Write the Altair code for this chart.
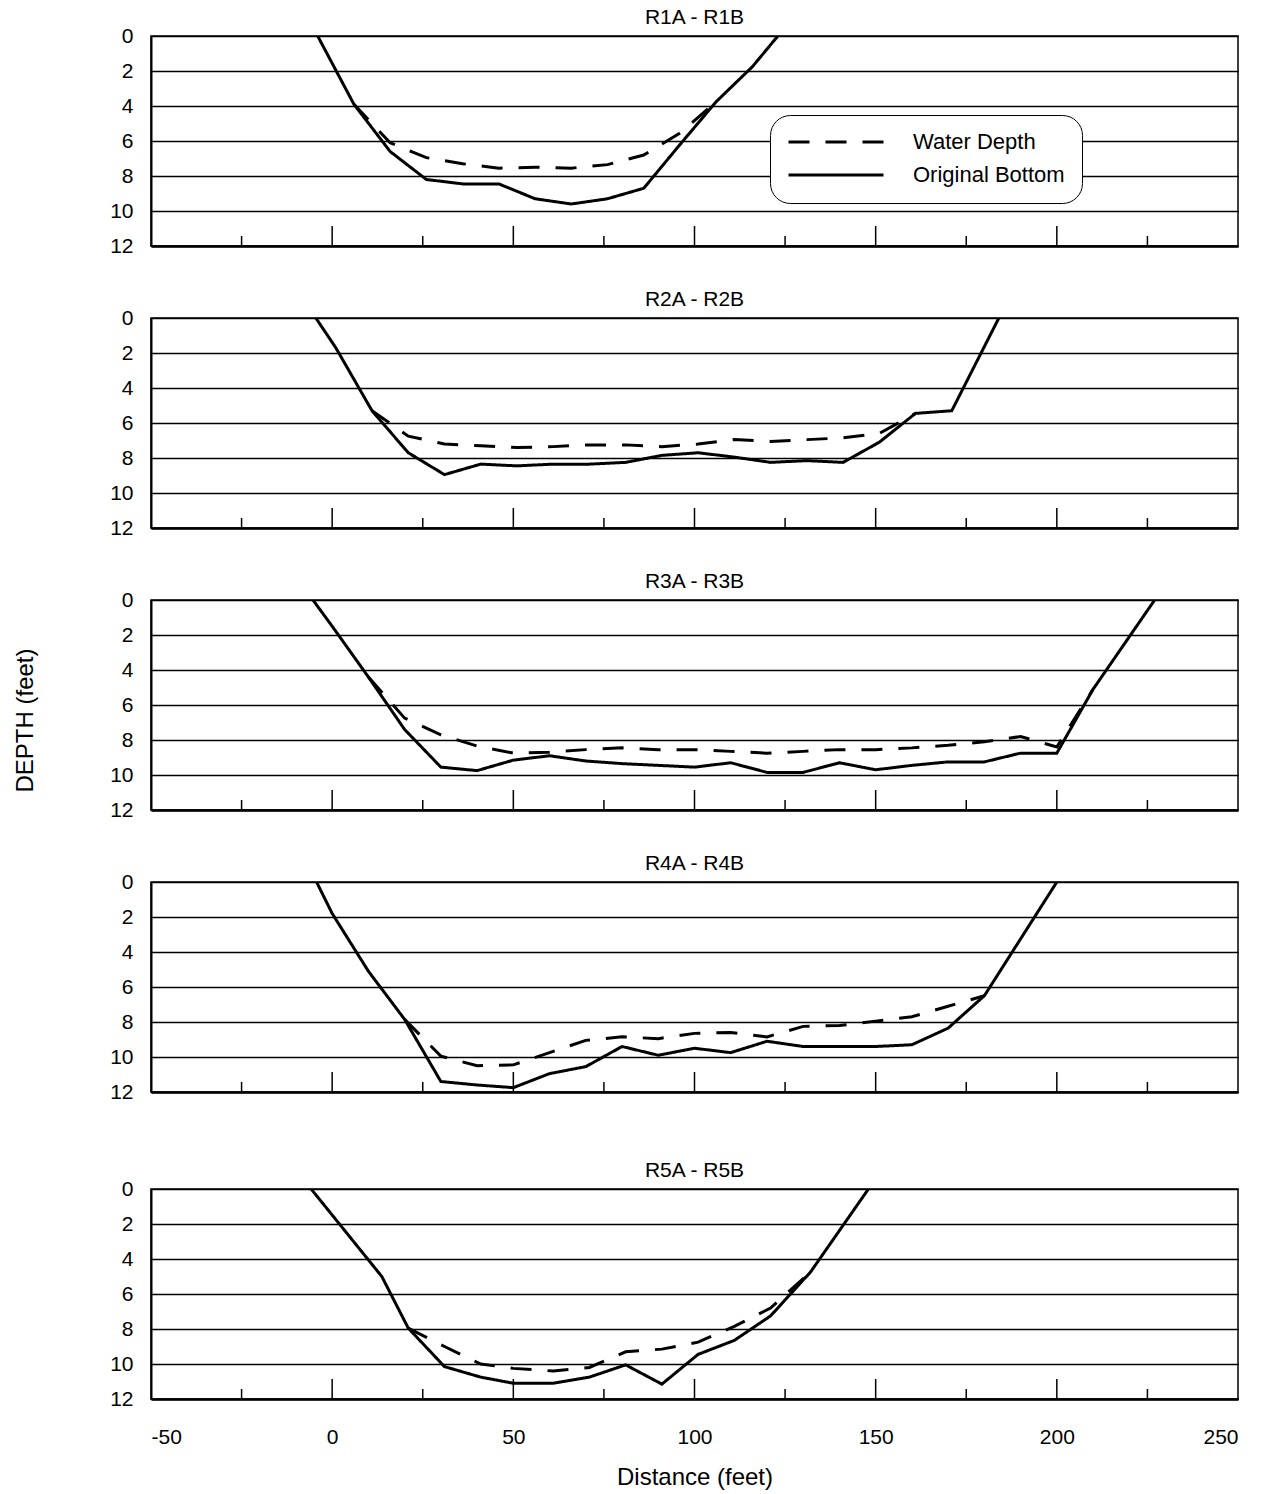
import altair as alt
import pandas as pd

FONT = "Liberation Sans"

transects = ["R1A - R1B", "R2A - R2B", "R3A - R3B", "R4A - R4B", "R5A - R5B"]
series_names = ["Original Bottom", "Water Depth"]

# R1A - R1B
r1_bottom_x = [-4, 6, 16, 26, 36, 46, 56, 66, 76, 86, 96, 106, 116, 123]
r1_bottom_d = [0, 3.9, 6.6, 8.2, 8.45, 8.45, 9.3, 9.6, 9.3, 8.7, 6.2, 3.75, 1.75, 0]
r1_water_x = [6, 16, 26, 36, 46, 56, 66, 76, 86, 96, 106]
r1_water_d = [3.9, 6.1, 6.95, 7.3, 7.55, 7.5, 7.55, 7.35, 6.8, 5.55, 3.75]

# R2A - R2B
r2_bottom_x = [-4.5, 1, 11, 21, 31, 41, 51, 61, 71, 81, 91, 101, 111, 121, 131, 141, 151, 161, 171, 184]
r2_bottom_d = [0, 1.7, 5.3, 7.7, 8.95, 8.35, 8.45, 8.35, 8.35, 8.25, 7.85, 7.7, 7.95, 8.25, 8.15, 8.25, 7.1, 5.45, 5.3, 0]
r2_water_x = [11, 21, 31, 41, 51, 61, 71, 81, 91, 101, 111, 121, 131, 141, 151, 161]
r2_water_d = [5.3, 6.75, 7.2, 7.3, 7.4, 7.35, 7.25, 7.25, 7.35, 7.2, 6.95, 7.05, 6.95, 6.85, 6.6, 5.45]

# R3A - R3B
r3_bottom_x = [-5.3, 0, 10, 20, 30, 40, 50, 60, 70, 80, 90, 100, 110, 120, 130, 140, 150, 160, 170, 180, 190, 200, 210, 227]
r3_bottom_d = [0, 1.5, 4.4, 7.4, 9.55, 9.75, 9.15, 8.9, 9.2, 9.35, 9.45, 9.55, 9.3, 9.85, 9.85, 9.3, 9.7, 9.45, 9.25, 9.25, 8.75, 8.75, 5.1, 0]
r3_water_x = [10, 20, 30, 40, 50, 60, 70, 80, 90, 100, 110, 120, 130, 140, 150, 160, 170, 180, 190, 200, 210]
r3_water_d = [4.4, 6.75, 7.7, 8.35, 8.75, 8.7, 8.55, 8.45, 8.55, 8.55, 8.65, 8.75, 8.65, 8.55, 8.55, 8.45, 8.3, 8.1, 7.8, 8.4, 5.1]

# R4A - R4B
r4_bottom_x = [-4.3, 0, 10, 20, 30, 40, 50, 60, 70, 80, 90, 100, 110, 120, 130, 140, 150, 160, 170, 180, 200]
r4_bottom_d = [0, 1.8, 5.1, 7.85, 11.4, 11.6, 11.75, 10.95, 10.55, 9.4, 9.9, 9.5, 9.75, 9.1, 9.4, 9.4, 9.4, 9.3, 8.35, 6.5, 0]
r4_water_x = [20, 30, 40, 50, 60, 70, 80, 90, 100, 110, 120, 130, 140, 150, 160, 170, 180]
r4_water_d = [7.85, 9.95, 10.5, 10.45, 9.75, 9.05, 8.85, 8.95, 8.65, 8.6, 8.85, 8.25, 8.2, 7.95, 7.7, 7.1, 6.5]

# R5A - R5B
r5_bottom_x = [-5.8, 13.7, 21, 31, 41, 50, 61, 71, 81, 91, 101, 111, 121, 132, 148]
r5_bottom_d = [0, 5.0, 7.95, 10.15, 10.75, 11.1, 11.1, 10.75, 10.05, 11.15, 9.45, 8.65, 7.25, 4.75, 0]
r5_water_x = [21, 31, 41, 50, 61, 71, 81, 91, 101, 111, 121, 132]
r5_water_d = [7.95, 9.0, 10.0, 10.25, 10.4, 10.2, 9.3, 9.15, 8.75, 7.85, 6.8, 4.75]

x_label_values = [-50, 0, 50, 100, 150, 200, 250]
x_major_ticks = [0, 50, 100, 150, 200]
x_minor_ticks = [-25, 25, 75, 125, 175, 225]
y_label_values = [0, 2, 4, 6, 8, 10, 12]

profiles = [
    (r1_bottom_x, r1_bottom_d, r1_water_x, r1_water_d),
    (r2_bottom_x, r2_bottom_d, r2_water_x, r2_water_d),
    (r3_bottom_x, r3_bottom_d, r3_water_x, r3_water_d),
    (r4_bottom_x, r4_bottom_d, r4_water_x, r4_water_d),
    (r5_bottom_x, r5_bottom_d, r5_water_x, r5_water_d),
]

rows = []
for tr, (bx, bd, wx, wd) in zip(transects, profiles):
    for x, d in zip(bx, bd):
        rows.append({"transect": tr, "series": "Original Bottom", "distance": x, "depth": d})
    for x, d in zip(wx, wd):
        rows.append({"transect": tr, "series": "Water Depth", "distance": x, "depth": d})
df = pd.DataFrame(rows)

major_df = pd.DataFrame({"distance": x_major_ticks})
minor_df = pd.DataFrame({"distance": x_minor_ticks})

W, H = 1087, 210
LABEL_SIZE = 21
x_scale = alt.Scale(domain=[-50, 250], nice=False, zero=False)
y_scale = alt.Scale(domain=[0, 12], reverse=True, nice=False, zero=False)
dash_scale = alt.Scale(domain=["Water Depth", "Original Bottom"], range=[[21, 16], [1, 0]])


def panel(i, tr):
    last = i == 4
    x_kwargs = dict(
        values=x_label_values, grid=False, ticks=False,
        domainColor="black", domainWidth=2.5,
        labelFont=FONT, labelFontSize=LABEL_SIZE, labelColor="black",
        labelExpr="toString(datum.value)",
        labelPadding=27 if last else 14,
        titleFont=FONT, titleFontSize=24, titleFontWeight="normal",
        titleColor="black", titlePadding=18,
    )
    if last:
        x_kwargs["title"] = "Distance (feet)"
    else:
        x_kwargs["title"] = None
        if i == 3:
            x_kwargs["labelOpacity"] = 0
        else:
            x_kwargs["labels"] = False
    x_axis = alt.Axis(**x_kwargs)

    y_kwargs = dict(
        values=y_label_values, grid=True, gridColor="black", gridWidth=1.4,
        ticks=False, domainColor="black", domainWidth=2,
        labelFont=FONT, labelFontSize=LABEL_SIZE, labelColor="black", labelPadding=18,
        titleFont=FONT, titleFontSize=24, titleFontWeight="normal", titleColor="black",
    )
    if i == 2:
        y_kwargs["title"] = "DEPTH (feet)"
        y_kwargs["titleX"] = -114
        y_kwargs["titleY"] = 120
    else:
        y_kwargs["title"] = None
    y_axis = alt.Axis(**y_kwargs)

    if i == 0:
        legend = alt.Legend(
            title=None, orient="none", legendX=619, legendY=79,
            symbolType="stroke", symbolSize=9025, symbolStrokeWidth=3,
            symbolStrokeColor="black",
            labelFont=FONT, labelFontSize=22, labelColor="black", labelOffset=28,
            padding=17, cornerRadius=20, strokeColor="black",
            fillColor="white", rowPadding=11, clipHeight=20,
        )
        dash = alt.StrokeDash("series:N", scale=dash_scale, legend=legend,
                              sort=["Water Depth", "Original Bottom"])
    else:
        dash = alt.StrokeDash("series:N", scale=dash_scale, legend=None)

    lines = alt.Chart(df).transform_filter(alt.datum.transect == tr).mark_line(
        color="black", strokeWidth=3, clip=True
    ).encode(
        x=alt.X("distance:Q", scale=x_scale, axis=x_axis),
        y=alt.Y("depth:Q", scale=y_scale, axis=y_axis),
        strokeDash=dash,
        order=alt.Order("distance:Q"),
    )
    major = alt.Chart(major_df).mark_rule(color="black", strokeWidth=1.5).encode(
        x=alt.X("distance:Q", scale=x_scale, axis=x_axis),
        y=alt.value(H), y2=alt.value(H - 20),
    )
    minor = alt.Chart(minor_df).mark_rule(color="black", strokeWidth=1.5).encode(
        x=alt.X("distance:Q", scale=x_scale, axis=x_axis),
        y=alt.value(H), y2=alt.value(H - 10),
    )
    return alt.layer(lines, major, minor).properties(
        width=W, height=H,
        title=alt.TitleParams(text=tr, font=FONT, fontSize=21, fontWeight="normal",
                              color="black", anchor="middle", offset=-3),
    )


chart = alt.vconcat(*[panel(i, tr) for i, tr in enumerate(transects)], spacing=31).resolve_scale(
    strokeDash="independent"
).resolve_legend(strokeDash="independent").configure_view(
    stroke="black", strokeWidth=1.5
).properties(
    background="white", padding={"left": 12, "top": 6, "right": 5, "bottom": 2}
)

chart.save("out.html", embed_options={"renderer": "svg", "actions": False})
